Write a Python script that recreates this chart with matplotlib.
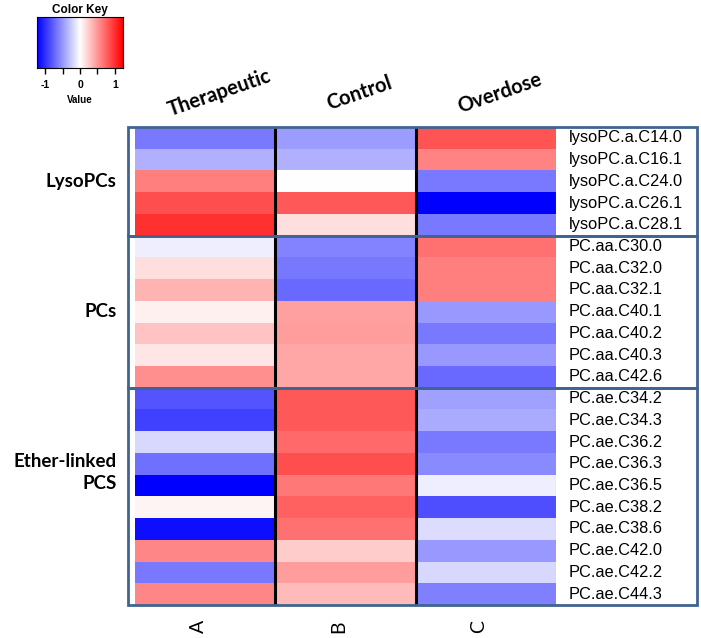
"""
Lipid heatmap: Therapeutic / Control / Overdose
"""

import numpy as np
import matplotlib
matplotlib.use("Agg")
import matplotlib.pyplot as plt
from matplotlib.patches import Rectangle

# Data
conditions = ["Therapeutic", "Control", "Overdose"]
bottom_labels = ["A", "B", "C"]
groups = ["LysoPCs", "PCs", "Ether-linked\nPCS"]
group_sizes = [5, 7, 10]
lipids = [
    "lysoPC.a.C14.0", "lysoPC.a.C16.1", "lysoPC.a.C24.0", "lysoPC.a.C26.1", "lysoPC.a.C28.1",
    "PC.aa.C30.0", "PC.aa.C32.0", "PC.aa.C32.1", "PC.aa.C40.1", "PC.aa.C40.2",
    "PC.aa.C40.3", "PC.aa.C42.6",
    "PC.ae.C34.2", "PC.ae.C34.3", "PC.ae.C36.2", "PC.ae.C36.3", "PC.ae.C36.5",
    "PC.ae.C38.2", "PC.ae.C38.6", "PC.ae.C42.0", "PC.ae.C42.2", "PC.ae.C44.3",
]
therapeutic = [-0.52, -0.31, 0.50, 0.69, 0.81,
               -0.07, 0.13, 0.29, 0.06, 0.23, 0.10, 0.44,
               -0.67, -0.75, -0.15, -0.56, -1.00, 0.04, -0.94, 0.47, -0.52, 0.47]
control = [-0.39, -0.31, 0.00, 0.65, 0.13,
           -0.48, -0.53, -0.58, 0.37, 0.39, 0.35, 0.35,
           0.65, 0.65, 0.58, 0.69, 0.53, 0.62, 0.56, 0.20, 0.39, 0.27]
overdose = [0.67, 0.48, -0.52, -1.00, -0.52,
            0.56, 0.50, 0.50, -0.40, -0.52, -0.40, -0.58,
            -0.37, -0.33, -0.52, -0.46, -0.07, -0.69, -0.14, -0.40, -0.15, -0.50]

W, H = 701, 638
BOX_COLOR = "#41648F"
BOLD_FONT = ["Lato", "DejaVu Sans"]
ARIAL = ["Liberation Sans", "DejaVu Sans"]


def px_axes(fig, x0, y0, x1, y1):
    """Add axes given pixel box (top-left origin)"""
    return fig.add_axes([x0 / W, 1 - y1 / H, (x1 - x0) / W, (y1 - y0) / H])


def draw_heatmap(fig):
    ax = px_axes(fig, 135, 127, 556, 605)
    values = np.column_stack([therapeutic, control, overdose])
    n = len(lipids)
    ax.imshow(values, cmap="bwr", vmin=-1, vmax=1, aspect="auto",
              extent=(0, 3, n, 0), interpolation="nearest")
    ax.set_xlim(0, 3)
    ax.set_ylim(n, 0)
    ax.axis("off")

    # column separators
    for c in (1, 2):
        ax.axvline(c, color="black", lw=2.2)
    ax.axvline(3, color="#9a9a9a", lw=0.8)

    # group boxes + labels
    start = 0
    for i, (g, size) in enumerate(zip(groups, group_sizes)):
        ax.add_patch(Rectangle((-0.05, start), 4.055, size, fill=False,
                               edgecolor=BOX_COLOR, lw=2, clip_on=False, zorder=5))
        yc = start + size / 2
        if "\n" in g:
            yc -= 1.1
        ax.text(-0.13, yc, g, ha="right", va="center", multialignment="right",
                fontsize=13.5, fontweight="bold", family=BOLD_FONT, linespacing=1.4)
        start += size

    # row labels
    for r, name in enumerate(lipids):
        ax.text(3.09, r + 0.5, name, ha="left", va="center",
                fontsize=11.8, family=ARIAL)

    # column headers
    for c, name in enumerate(conditions):
        ax.text(c + 0.6, -1.55, name, ha="center", va="center", rotation=19,
                rotation_mode="anchor", fontsize=14.5, fontweight="bold",
                family=BOLD_FONT)
    for c, name in enumerate(bottom_labels):
        ax.text(c + 0.45, 23.0, name, ha="center", va="center", rotation=90,
                fontsize=14, family=BOLD_FONT)
    return ax


def draw_color_key(fig):
    ax = px_axes(fig, 37, 17, 123, 68)
    lim = 1.23
    grad = np.linspace(-lim, lim, 256)[np.newaxis, :]
    ax.imshow(grad, cmap="bwr", vmin=-lim, vmax=lim, aspect="auto",
              extent=(-lim, lim, 0, 1))
    ax.set_xlim(-lim, lim)
    ax.set_yticks([])
    ax.set_xticks([-1, -0.5, 0, 0.5, 1])
    ax.set_xticklabels(["-1", "", "0", "", "1"], fontsize=7.5,
                       fontweight="bold", family=ARIAL)
    ax.tick_params(axis="x", length=4, width=1, pad=5)
    ax.set_xlabel("Value", fontsize=7, fontweight="bold", family=ARIAL, labelpad=3)
    ax.set_title("Color Key", fontsize=8.5, fontweight="bold", family=ARIAL, pad=3)
    for s in ax.spines.values():
        s.set_linewidth(0.8)
    return ax


def main():
    fig = plt.figure(figsize=(W / 100, H / 100), dpi=100)
    fig.patch.set_facecolor("white")
    draw_heatmap(fig)
    draw_color_key(fig)
    fig.savefig("out.png", dpi=100)
    return 0


if __name__ == "__main__":
    import sys
    sys.exit(main())
